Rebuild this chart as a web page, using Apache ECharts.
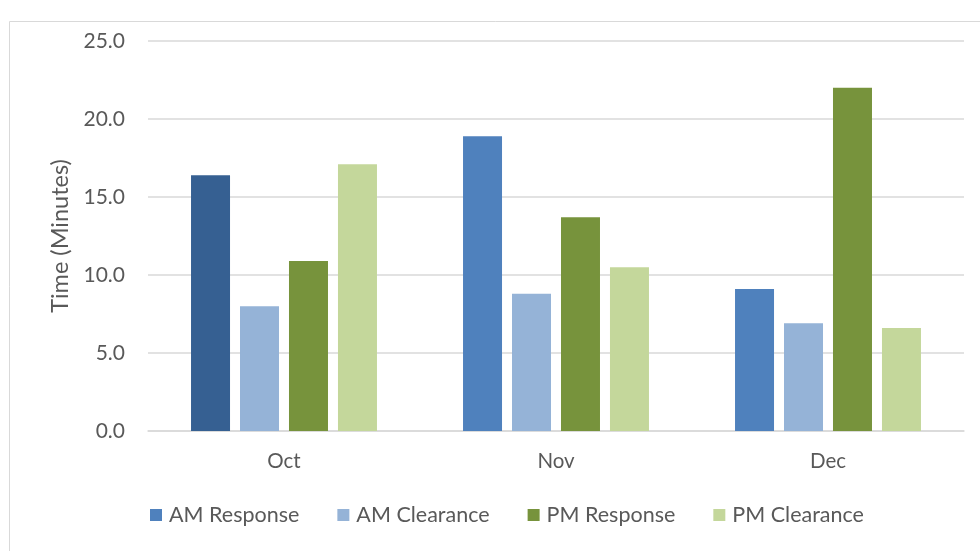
<!DOCTYPE html>
<html>
<head>
<meta charset="utf-8">
<script src="https://cdn.jsdelivr.net/npm/echarts@6/dist/echarts.min.js"></script>
<style>
  html, body { margin: 0; padding: 0; background: #fff; }
  #chart { width: 980px; height: 551px; }
</style>
</head>
<body>
<div id="chart"></div>
<script>
var months = ['Oct', 'Nov', 'Dec'];
var amResponse = [16.4, 18.9, 9.1];
var amClearance = [8.0, 8.8, 6.9];
var pmResponse = [10.9, 13.7, 22.0];
var pmClearance = [17.1, 10.5, 6.6];

var textColor = '#595959';
var font = 'Lato';

var chart = echarts.init(document.getElementById('chart'));

// the first October bar is drawn darker in the original
var amResponseData = amResponse.map(function (v, i) {
  return i === 0 ? { value: v, itemStyle: { color: '#366092' } } : v;
});

function bar(name, data, color) {
  return {
    name: name,
    type: 'bar',
    data: data,
    barWidth: 39,
    barGap: '25.6%',
    itemStyle: { color: color },
    emphasis: { disabled: true }
  };
}

chart.setOption({
  animation: false,
  textStyle: { fontFamily: font },
  graphic: [{
    type: 'rect',
    shape: { x: 9.5, y: 21.5, width: 990, height: 560 },
    style: { fill: 'none', stroke: '#D9D9D9', lineWidth: 1 },
    silent: true
  }],
  grid: { left: 148, right: 16, top: 41, bottom: 120 },
  legend: {
    left: 145,
    top: 499,
    itemWidth: 12,
    itemHeight: 12,
    itemGap: 38,
    icon: 'rect',
    textStyle: { color: textColor, fontSize: 21.5, fontFamily: font, padding: [0, 0, 0, 2] },
    data: ['AM Response', 'AM Clearance', 'PM Response', 'PM Clearance']
  },
  xAxis: {
    type: 'category',
    data: months,
    axisLine: { lineStyle: { color: '#D9D9D9', width: 1.5 } },
    axisTick: { show: false },
    axisLabel: { color: textColor, fontSize: 20.5, margin: 20 }
  },
  yAxis: {
    type: 'value',
    min: 0,
    max: 25,
    interval: 5,
    name: 'Time (Minutes)',
    nameLocation: 'middle',
    nameGap: 75,
    nameTextStyle: { color: textColor, fontSize: 23.5 },
    axisLine: { show: false },
    axisTick: { show: false },
    axisLabel: {
      color: textColor,
      fontSize: 21,
      margin: 23,
      formatter: function (v) { return v.toFixed(1); }
    },
    splitLine: { lineStyle: { color: '#D9D9D9', width: 1.5 } }
  },
  series: [
    bar('AM Response', amResponseData, '#4F81BD'),
    bar('AM Clearance', amClearance, '#95B3D7'),
    bar('PM Response', pmResponse, '#77933C'),
    bar('PM Clearance', pmClearance, '#C4D79B')
  ]
});
</script>
</body>
</html>
